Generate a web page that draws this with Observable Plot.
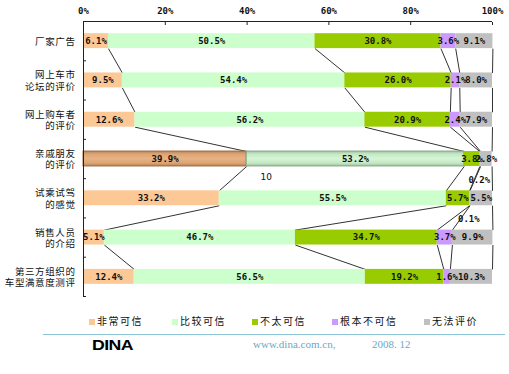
<!DOCTYPE html>
<html><head><meta charset="utf-8">
<script src="https://cdn.jsdelivr.net/npm/d3@7"></script>
<script src="https://cdn.jsdelivr.net/npm/@observablehq/plot@0.6"></script>
<style>
body{margin:0;background:#fff;}
#wrap{position:relative;width:509px;height:374px;overflow:hidden;font-family:"Noto Sans CJK SC",sans-serif;}
#chart{position:absolute;left:0;top:0;}
.lg{position:absolute;font-size:10px;letter-spacing:1.5px;color:#111;line-height:12px;}
.sw{position:absolute;width:6px;height:6px;}
.catlab text{letter-spacing:0.6px;}
</style></head><body><div id="wrap"><div id="chart"></div></div>
<script>
const categories = ["厂家广告","网上车市\n论坛的评价","网上购车者\n的评价","亲戚朋友\n的评价","试乘试驾\n的感觉","销售人员\n的介绍","第三方组织的\n车型满意度测评"];
const seriesNames = ["非常可信","比较可信","不太可信","根本不可信","无法评价"];
const seriesColors = ["#fcc896","#ccffcc","#99cc00","#cc99ff","#c0c0c0"];
const veryTrust   = [6.1, 9.5, 12.6, 39.9, 33.2, 5.1, 12.4];
const fairlyTrust = [50.5, 54.4, 56.2, 53.2, 55.5, 46.7, 56.5];
const notVery     = [30.8, 26.0, 20.9, 3.8, 5.7, 34.7, 19.2];
const notAtAll    = [3.6, 2.1, 2.4, 0.2, 0.1, 3.7, 1.6];
const noComment   = [9.1, 8.0, 7.9, 2.8, 5.5, 9.9, 10.3];
const xTicks = [0, 20, 40, 60, 80, 100];
const highlightedCategory = "亲戚朋友\n的评价";
const strayNote = [{text: "10", x: 44.7, y: 3.47}];

const series = [veryTrust, fairlyTrust, notVery, notAtAll, noComment];
const rows = [];
const cums = categories.map((c, i) => {
  let acc = 0; const arr = [];
  series.forEach((s, j) => {
    const v = s[i];
    rows.push({i, cat: c, j, series: seriesNames[j], value: v, x1: acc, x2: acc + v});
    acc += v; arr.push(acc);
  });
  return arr;
});
const h = 0.19;
const links = [];
for (let i = 0; i < categories.length - 1; i++)
  for (let j = 0; j < seriesNames.length; j++)
    links.push({x1: cums[i][j], y1: i + h, x2: cums[i + 1][j], y2: i + 1 - h});

const fillOf = d => {
  if (d.cat === highlightedCategory && d.j === 0) return "url(#hlA)";
  if (d.cat === highlightedCategory && d.j === 1) return "url(#hlB)";
  return seriesColors[d.j];
};
const strokeOf = d => {
  if (d.cat === highlightedCategory && d.j === 0) return "#9a6a44";
  if (d.cat === highlightedCategory && d.j === 1) return "#88a888";
  return "none";
};
const boundaries = d3.range(-0.5, categories.length, 1);
const mono = "DejaVu Sans Mono, monospace";

const chart = Plot.plot({
  width: 509, height: 300,
  marginTop: 21, marginLeft: 83, marginRight: 17, marginBottom: 4,
  x: {domain: [0, 100], range: [83, 492]},
  y: {domain: [-0.5, categories.length - 0.5], range: [21, 296]},
  color: {type: "identity"},
  style: {fontFamily: "Noto Sans CJK SC, sans-serif", background: "white", overflow: "visible"},
  marks: [
    Plot.link(links, {x1: "x1", y1: "y1", x2: "x2", y2: "y2", stroke: "#333", strokeWidth: 1}),
    Plot.rect(rows, {x1: "x1", x2: "x2", y1: d => d.i - h, y2: d => d.i + h, fill: fillOf, stroke: strokeOf, strokeWidth: 1}),
    Plot.text(rows.filter(d => d.value >= 1), {x: d => (d.x1 + d.x2) / 2, y: "i", text: d => d.value.toFixed(1) + "%", fontFamily: mono, fontSize: 9, fill: "#111", fontWeight: "bold"}),
    Plot.text(rows.filter(d => d.value < 1), {x: d => (d.x1 + d.x2) / 2, y: "i", dy: 21, dx: -1, text: d => d.value.toFixed(1) + "%", fontFamily: mono, fontSize: 9, fill: "#111", fontWeight: "bold"}),
    Plot.text(strayNote, {x: "x", y: "y", text: "text", fontSize: 9, fontFamily: "DejaVu Sans, sans-serif", fill: "#111"}),
    Plot.ruleY([-0.5], {stroke: "#222"}),
    Plot.ruleX([0], {stroke: "#222"}),
    Plot.axisX({anchor: "top", ticks: xTicks, tickSize: -3, tickPadding: 11, tickFormat: d => d + "%", fontFamily: mono, fontSize: 9, fontWeight: "bold", stroke: "#222", fill: "#111"}),
    Plot.axisY({anchor: "left", ticks: boundaries, tickSize: -3, tickFormat: () => "", stroke: "#222"}),
    Plot.text(categories, {x: 0, y: (d, k) => k, dx: -8, text: d => d, textAnchor: "end", lineHeight: 1.2, fontSize: 9.5, fill: "#111", className: "catlab"})
  ]
});
// gradients for the highlighted bar
const svgNS = "http://www.w3.org/2000/svg";
const defs = document.createElementNS(svgNS, "defs");
function grad(id, stops) {
  const g = document.createElementNS(svgNS, "linearGradient");
  g.setAttribute("id", id); g.setAttribute("x1", "0"); g.setAttribute("y1", "0"); g.setAttribute("x2", "0"); g.setAttribute("y2", "1");
  stops.forEach(([o, c]) => { const s = document.createElementNS(svgNS, "stop"); s.setAttribute("offset", o); s.setAttribute("stop-color", c); g.appendChild(s); });
  defs.appendChild(g);
}
grad("hlA", [["0", "#b98358"], ["0.2", "#dca576"], ["0.5", "#e8b284"], ["0.8", "#dca576"], ["1", "#b98358"]]);
grad("hlB", [["0", "#a0c0a0"], ["0.2", "#c4e8c4"], ["0.5", "#d4f6d4"], ["0.8", "#c4e8c4"], ["1", "#a0c0a0"]]);
chart.insertBefore(defs, chart.firstChild);
document.getElementById("chart").appendChild(chart);

// legend
const wrap = document.getElementById("wrap");
const lgX = [89, 172, 252, 332, 424];
seriesNames.forEach((n, j) => {
  const sw = document.createElement("div"); sw.className = "sw";
  sw.style.left = lgX[j] + "px"; sw.style.top = "319px"; sw.style.background = seriesColors[j];
  wrap.appendChild(sw);
  const t = document.createElement("div"); t.className = "lg";
  t.style.left = (lgX[j] + 8) + "px"; t.style.top = "315px"; t.textContent = n;
  wrap.appendChild(t);
});
// footer
const line = document.createElement("div");
Object.assign(line.style, {position: "absolute", left: "43px", top: "334px", width: "462px", height: "1px", background: "#8cc4d8"});
wrap.appendChild(line);
const logo = document.createElement("div");
logo.textContent = "DINA";
Object.assign(logo.style, {position: "absolute", left: "92px", top: "336px", fontFamily: "Liberation Sans, Arial, sans-serif", fontWeight: "900", fontSize: "15px", letterSpacing: "-0.5px", color: "#000", transform: "scaleX(1.18)", transformOrigin: "left"});
wrap.appendChild(logo);
const web = document.createElement("div");
web.textContent = "www.dina.com.cn,";
Object.assign(web.style, {position: "absolute", left: "253px", top: "338px", fontFamily: "Liberation Serif, serif", fontSize: "11px", color: "#6aa8c8"});
wrap.appendChild(web);
const date = document.createElement("div");
date.textContent = "2008. 12";
Object.assign(date.style, {position: "absolute", left: "372px", top: "338px", fontFamily: "Liberation Serif, serif", fontSize: "11px", color: "#6aa8c8"});
wrap.appendChild(date);
</script></body></html>
